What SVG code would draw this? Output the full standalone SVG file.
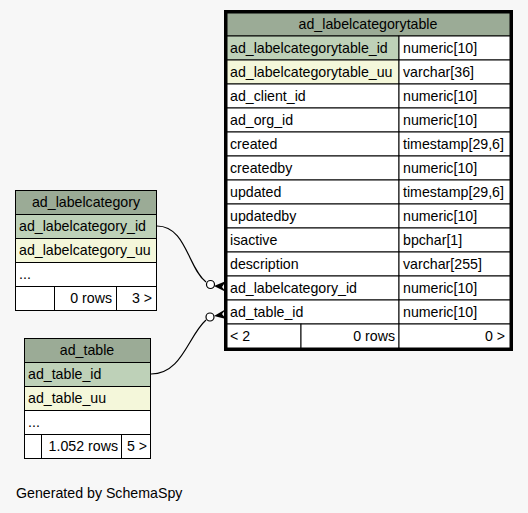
<svg xmlns="http://www.w3.org/2000/svg" width="528" height="513" viewBox="0 0 528 513">
<defs>
<style>
text{font-family:"Liberation Sans",Arial,sans-serif;font-size:14.2px;fill:#000}
.c{stroke:#000;stroke-width:1}
.h{fill:#9bab96}
.k{fill:#bed1b8}
.u{fill:#f4f7da}
.w{fill:#fff}
.m{text-anchor:middle}
.e{text-anchor:end}
.ln{fill:none;stroke:#000;stroke-width:1.2}
</style>
</defs>
<rect width="528" height="513" fill="#f7f7f7"/>
<g id="connectors">
<path class="ln" d="M157,226 C186,226 188,268 206,282"/>
<circle cx="210.5" cy="284.5" r="4" fill="#fff" stroke="#000" stroke-width="1.2"/>
<polygon points="214,286 226,281 222,287 226,292" fill="#000"/>
<path class="ln" d="M151,374 C182,374 188,336 206,320"/>
<circle cx="210" cy="317" r="4" fill="#fff" stroke="#000" stroke-width="1.2"/>
<polygon points="214,316 226,309 222,314 226,319" fill="#000"/>
</g>
<g id="ad_labelcategorytable">
<rect x="225.5" y="11.5" width="286" height="338" fill="#fff" stroke="#000" stroke-width="3"/>
<rect class="c h" x="227" y="13" width="283" height="23"/>
<text class="m" x="368" y="29">ad_labelcategorytable</text>
<rect class="c k" x="227" y="36" width="172" height="24"/><rect class="c w" x="399" y="36" width="111" height="24"/>
<text x="230" y="53">ad_labelcategorytable_id</text><text x="403" y="53">numeric[10]</text>
<rect class="c u" x="227" y="60" width="172" height="24"/><rect class="c w" x="399" y="60" width="111" height="24"/>
<text x="230" y="77">ad_labelcategorytable_uu</text><text x="403" y="77">varchar[36]</text>
<rect class="c w" x="227" y="84" width="172" height="24"/><rect class="c w" x="399" y="84" width="111" height="24"/>
<text x="230" y="101">ad_client_id</text><text x="403" y="101">numeric[10]</text>
<rect class="c w" x="227" y="108" width="172" height="24"/><rect class="c w" x="399" y="108" width="111" height="24"/>
<text x="230" y="125">ad_org_id</text><text x="403" y="125">numeric[10]</text>
<rect class="c w" x="227" y="132" width="172" height="24"/><rect class="c w" x="399" y="132" width="111" height="24"/>
<text x="230" y="149">created</text><text x="403" y="149">timestamp[29,6]</text>
<rect class="c w" x="227" y="156" width="172" height="24"/><rect class="c w" x="399" y="156" width="111" height="24"/>
<text x="230" y="173">createdby</text><text x="403" y="173">numeric[10]</text>
<rect class="c w" x="227" y="180" width="172" height="24"/><rect class="c w" x="399" y="180" width="111" height="24"/>
<text x="230" y="197">updated</text><text x="403" y="197">timestamp[29,6]</text>
<rect class="c w" x="227" y="204" width="172" height="24"/><rect class="c w" x="399" y="204" width="111" height="24"/>
<text x="230" y="221">updatedby</text><text x="403" y="221">numeric[10]</text>
<rect class="c w" x="227" y="228" width="172" height="24"/><rect class="c w" x="399" y="228" width="111" height="24"/>
<text x="230" y="245">isactive</text><text x="403" y="245">bpchar[1]</text>
<rect class="c w" x="227" y="252" width="172" height="24"/><rect class="c w" x="399" y="252" width="111" height="24"/>
<text x="230" y="269">description</text><text x="403" y="269">varchar[255]</text>
<rect class="c w" x="227" y="276" width="172" height="24"/><rect class="c w" x="399" y="276" width="111" height="24"/>
<text x="230" y="293">ad_labelcategory_id</text><text x="403" y="293">numeric[10]</text>
<rect class="c w" x="227" y="300" width="172" height="24"/><rect class="c w" x="399" y="300" width="111" height="24"/>
<text x="230" y="317">ad_table_id</text><text x="403" y="317">numeric[10]</text>
<rect class="c w" x="227" y="324" width="74" height="24"/><rect class="c w" x="301" y="324" width="98" height="24"/><rect class="c w" x="399" y="324" width="111" height="24"/>
<text x="230" y="341">&lt; 2</text><text class="e" x="395" y="341">0 rows</text><text class="e" x="505" y="341">0 &gt;</text>
</g>
<g id="ad_labelcategory">
<rect x="15.5" y="190.5" width="141" height="120" fill="#fff" stroke="#000"/>
<rect class="c h" x="15.5" y="190.5" width="141" height="24"/>
<text class="m" x="86" y="207">ad_labelcategory</text>
<rect class="c k" x="15.5" y="214.5" width="141" height="24"/>
<text x="19" y="231">ad_labelcategory_id</text>
<rect class="c u" x="15.5" y="238.5" width="141" height="24"/>
<text x="19" y="255">ad_labelcategory_uu</text>
<rect class="c w" x="15.5" y="262.5" width="141" height="24"/>
<text x="19" y="279">...</text>
<rect class="c w" x="15.5" y="286.5" width="39" height="24"/><rect class="c w" x="54.5" y="286.5" width="62" height="24"/><rect class="c w" x="116.5" y="286.5" width="40" height="24"/>
<text class="e" x="112" y="303">0 rows</text><text class="e" x="152" y="303">3 &gt;</text>
</g>
<g id="ad_table">
<rect x="24.5" y="338.5" width="126" height="120" fill="#fff" stroke="#000"/>
<rect class="c h" x="24.5" y="338.5" width="126" height="24"/>
<text class="m" x="87" y="355">ad_table</text>
<rect class="c k" x="24.5" y="362.5" width="126" height="24"/>
<text x="28" y="379">ad_table_id</text>
<rect class="c u" x="24.5" y="386.5" width="126" height="24"/>
<text x="28" y="403">ad_table_uu</text>
<rect class="c w" x="24.5" y="410.5" width="126" height="24"/>
<text x="28" y="427">...</text>
<rect class="c w" x="24.5" y="434.5" width="17" height="24"/><rect class="c w" x="41.5" y="434.5" width="80" height="24"/><rect class="c w" x="121.5" y="434.5" width="29" height="24"/>
<text class="e" x="118" y="451">1.052 rows</text><text class="e" x="147" y="451">5 &gt;</text>
</g>
<text x="16" y="498">Generated by SchemaSpy</text>
</svg>
